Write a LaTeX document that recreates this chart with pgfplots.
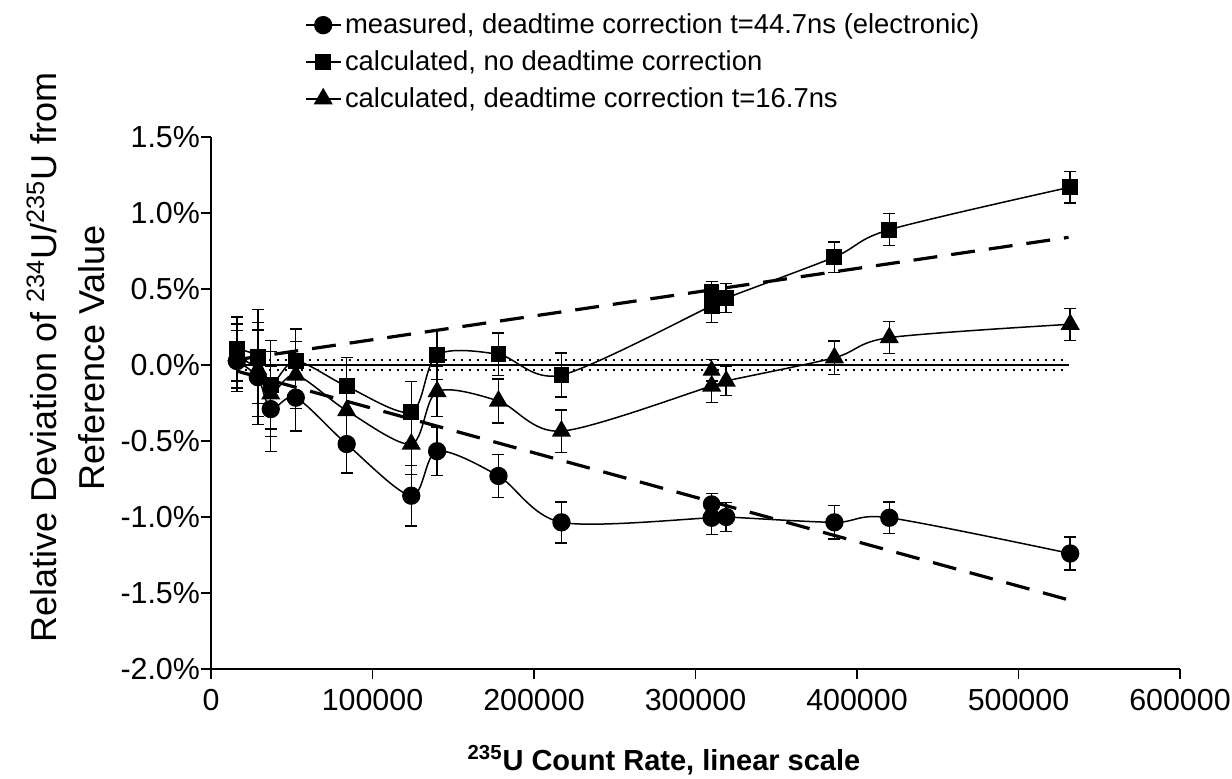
\documentclass[border=0pt]{standalone}
\usepackage{fontspec}
\setmainfont{Liberation Sans}
\usepackage{pgfplots}
\pgfplotsset{compat=1.18}
\newcommand\tl{\fontsize{15.2}{18}\selectfont}
\begin{document}
\begin{tikzpicture}
\useasboundingbox (0,0) rectangle (616pt,389pt);
\begin{axis}[
  at={(105.5pt,54.5pt)}, anchor=south west,
  width=484.5pt, height=266pt, scale only axis,
  xmin=0, xmax=600000, ymin=-2, ymax=1.5,
  scaled x ticks=false, scaled y ticks=false,
  axis x line=bottom, axis y line=left,
  axis line style={-, line width=0.8pt},
  tick align=outside, major tick length=5pt,
  tick style={line width=0.8pt, black},
  xtick={0,100000,200000,300000,400000,500000,600000},
  xticklabels={{\tl 0},{\tl 100000},{\tl 200000},{\tl 300000},{\tl 400000},{\tl 500000},{\tl 600000}},
  ytick={-2,-1.5,-1,-0.5,0,0.5,1,1.5},
  yticklabels={{\tl -2.0\%},{\tl -1.5\%},{\tl -1.0\%},{\tl -0.5\%},{\tl 0.0\%},{\tl 0.5\%},{\tl 1.0\%},{\tl 1.5\%}},
  xticklabel style={yshift=-1.5pt},
  yticklabel style={xshift=3pt},
  xlabel={\textbf{\textsuperscript{235}U Count Rate, linear scale}},
  xlabel style={font=\fontsize{14.5}{17}\selectfont, at={(axis description cs:0.4675,-0.19)}, anchor=base},
  ylabel={Relative Deviation of \textsuperscript{234}U/\textsuperscript{235}U from\\Reference Value},
  ylabel style={align=center, font=\fontsize{18}{24}\selectfont, at={(axis description cs:-0.1500,0.585)}, anchor=center},
  legend style={at={(axis description cs:0.097,1.24)}, anchor=north west, draw=none, fill=none,
    font=\fontsize{13.7}{16}\selectfont, row sep=3pt, inner sep=0pt},
  legend cell align=left,
  error bars/error mark options={rotate=90, mark size=3pt, line width=0.7pt},
  error bars/error bar style={line width=0.7pt},
]
% reference lines
\addplot[forget plot, black, line width=0.8pt] coordinates {(16000,0) (531000,0)};
\addplot[forget plot, black, line width=0.9pt, dash pattern=on 1.3pt off 2.7pt] coordinates {(16000,0.035) (531000,0.035)};
\addplot[forget plot, black, line width=0.9pt, dash pattern=on 1.3pt off 2.7pt] coordinates {(16000,-0.035) (531000,-0.035)};
\addplot[forget plot, black, line width=1.6pt, dash pattern=on 12pt off 7pt] coordinates {(16000,0.035) (531000,0.84)};
\addplot[forget plot, black, line width=1.6pt, dash pattern=on 12pt off 7pt] coordinates {(16000,-0.04) (531000,-1.545)};
% measured
\addplot[black, line width=0.75pt, smooth, tension=0.5, mark=*, mark size=4.2pt,
  error bars/.cd, y dir=both, y explicit] coordinates {
(16000,0.026) +- (0,0.20)
(29000,-0.08) +- (0,0.31)
(37000,-0.29) +- (0,0.28)
(52500,-0.215) +- (0,0.22)
(84000,-0.52) +- (0,0.19)
(124000,-0.86) +- (0,0.20)
(140000,-0.567) +- (0,0.16)
(178000,-0.73) +- (0,0.14)
(217000,-1.035) +- (0,0.135)
(310000,-1.005) +- (0,0.11)
(319000,-1.0) +- (0,0.095)
(386000,-1.035) +- (0,0.11)
(420000,-1.005) +- (0,0.105)
(532000,-1.24) +- (0,0.108)
};
\addlegendentry{measured, deadtime correction t=44.7ns (electronic)}
% calculated, no correction
\addplot[black, line width=0.75pt, smooth, tension=0.5, mark=square*, mark size=3.6pt,
  error bars/.cd, y dir=both, y explicit] coordinates {
(16000,0.105) +- (0,0.21)
(29000,0.055) +- (0,0.31)
(37000,-0.13) +- (0,0.29)
(52500,0.026) +- (0,0.21)
(84000,-0.14) +- (0,0.19)
(124000,-0.31) +- (0,0.20)
(140000,0.066) +- (0,0.16)
(178000,0.07) +- (0,0.14)
(217000,-0.066) +- (0,0.145)
(310000,0.39) +- (0,0.11)
(319000,0.44) +- (0,0.095)
(386000,0.71) +- (0,0.10)
(420000,0.89) +- (0,0.105)
(532000,1.17) +- (0,0.105)
};
\addlegendentry{calculated, no deadtime correction}
% calculated, correction 16.7ns
\addplot[black, line width=0.75pt, smooth, tension=0.5, mark=triangle*, mark size=4.8pt,
  error bars/.cd, y dir=both, y explicit] coordinates {
(16000,0.06) +- (0,0.21)
(29000,-0.03) +- (0,0.31)
(37000,-0.19) +- (0,0.28)
(52500,-0.066) +- (0,0.22)
(84000,-0.30) +- (0,0.19)
(124000,-0.52) +- (0,0.20)
(140000,-0.175) +- (0,0.165)
(178000,-0.237) +- (0,0.145)
(217000,-0.435) +- (0,0.14)
(310000,-0.138) +- (0,0.11)
(319000,-0.105) +- (0,0.095)
(386000,0.048) +- (0,0.11)
(420000,0.18) +- (0,0.105)
(532000,0.268) +- (0,0.105)
};
\addlegendentry{calculated, deadtime correction t=16.7ns}
% extra points at 310000
\addplot[forget plot, only marks, black, mark=*, mark size=4.2pt, error bars/.cd, y dir=both, y explicit]
  coordinates {(310000,-0.915) +- (0,0.07)};
\addplot[forget plot, only marks, black, mark=square*, mark size=3.6pt, error bars/.cd, y dir=both, y explicit]
  coordinates {(310000,0.48) +- (0,0.07)};
\addplot[forget plot, only marks, black, mark=triangle*, mark size=4.8pt, error bars/.cd, y dir=both, y explicit]
  coordinates {(310000,-0.035) +- (0,0.07)};
\end{axis}
\end{tikzpicture}
\end{document}
